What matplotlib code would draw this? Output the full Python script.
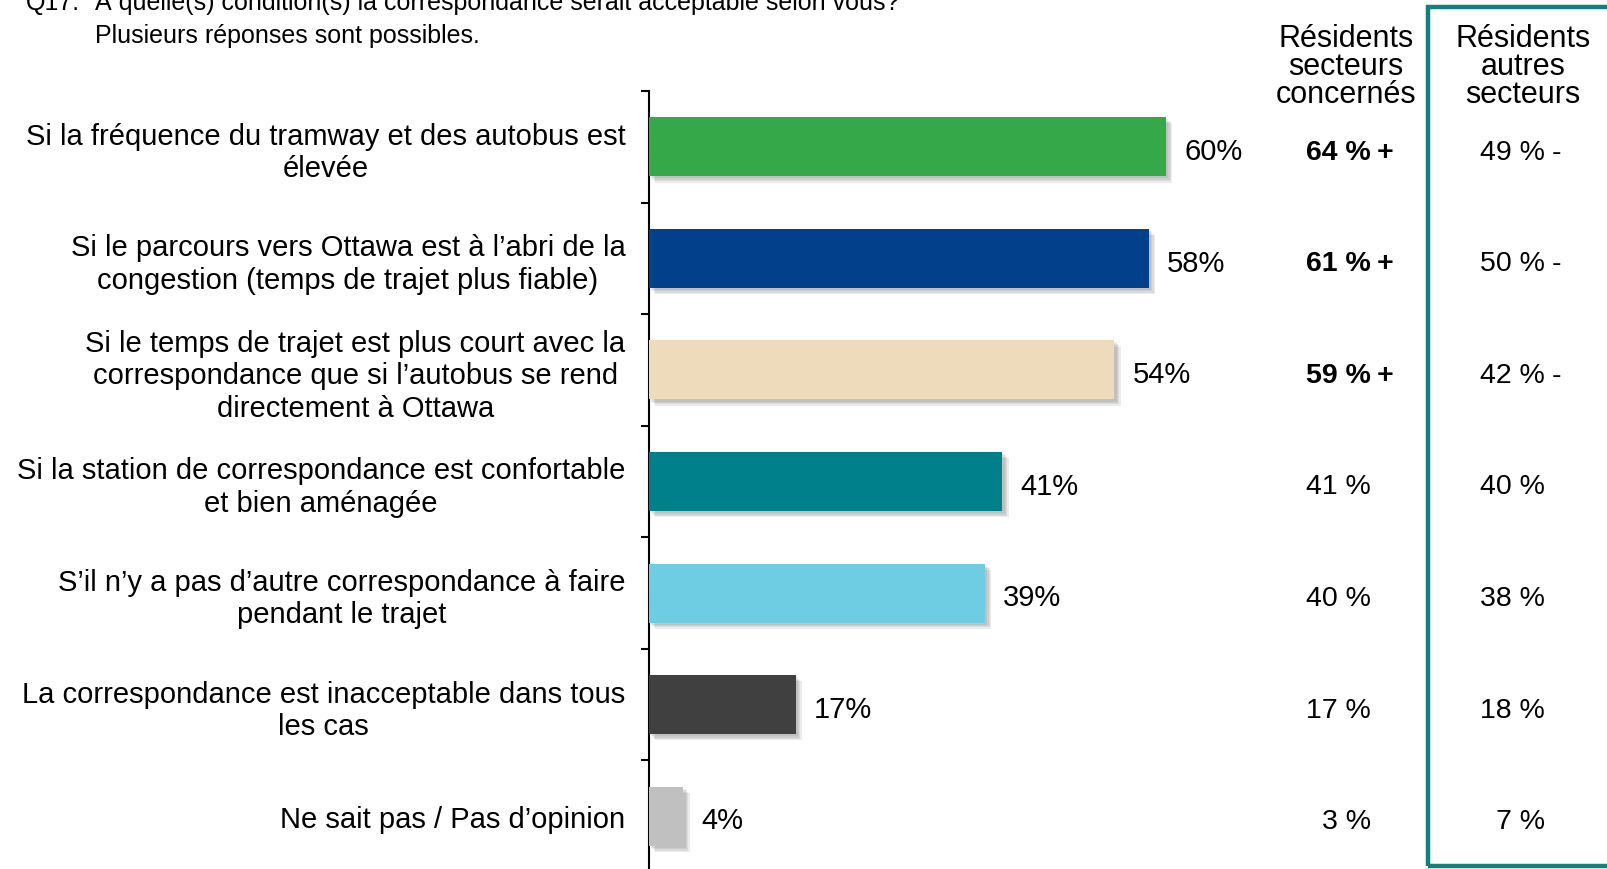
import matplotlib
matplotlib.use("Agg")
import matplotlib.pyplot as plt
import matplotlib.patheffects as pe
from matplotlib.patches import Rectangle
from matplotlib.transforms import blended_transform_factory, ScaledTranslation
import numpy as np

plt.rcParams['font.family'] = ['Liberation Sans', 'DejaVu Sans']

# data
categories = [
    "Si la fréquence du tramway et des autobus est\nélevée",
    "Si le parcours vers Ottawa est à l’abri de la\ncongestion (temps de trajet plus fiable)",
    "Si le temps de trajet est plus court avec la\ncorrespondance que si l’autobus se rend\ndirectement à Ottawa",
    "Si la station de correspondance est confortable\net bien aménagée",
    "S’il n’y a pas d’autre correspondance à faire\npendant le trajet",
    "La correspondance est inacceptable dans tous\nles cas",
    "Ne sait pas / Pas d’opinion",
]
total = [60, 58, 54, 41, 39, 17, 4]
concernes = [64, 61, 59, 41, 40, 17, 3]
concernes_sig = ["+", "+", "+", "", "", "", ""]
autres = [49, 50, 42, 40, 38, 18, 7]
autres_sig = ["-", "-", "-", "", "", "", ""]
bar_colors = ["#35A94A", "#03408C", "#EDDBBB", "#00808A", "#6FCDE3", "#404040", "#C0C0C0"]

col_headers = ["Résidents\nsecteurs\nconcernés", "Résidents\nautres\nsecteurs"]
title_num = "Q17."
title_l1 = "À quelle(s) condition(s) la correspondance serait acceptable selon vous?"
title_l2 = "Plusieurs réponses sont possibles."

W, H = 1608, 870
fig = plt.figure(figsize=(W / 100, H / 100), dpi=100)
fig.patch.set_facecolor("white")


def fx(px):
    return px / W


def fy(py):
    return 1 - py / H


# axes: left spine at x=649px, rows from y=92px down to 873px
ax = fig.add_axes([fx(649), fy(873), fx(862), (873 - 92) / H])
y = np.arange(len(categories))
bars = ax.barh(y, total, height=0.53, color=bar_colors, zorder=3)
# soft drop shadow, built from a few faint offset copies
shadow = [pe.SimplePatchShadow(offset=(o, -o), shadow_rgbFace="#707070", alpha=0.13)
          for o in (1.5, 2.5, 3.5, 4.5)]
for b in bars:
    b.set_path_effects(shadow + [pe.Normal()])

ax.set_xlim(0, 100)
ax.set_ylim(len(categories) - 0.5, -0.5)
for s in ["top", "right", "bottom"]:
    ax.spines[s].set_visible(False)
ax.spines["left"].set_linewidth(1.5)
ax.set_xticks([])
ax.set_yticks(y)
ax.set_yticklabels(categories, fontsize=21, linespacing=1.2)
for lab in ax.get_yticklabels():
    lab.set_multialignment("center")
    lab.set_transform(lab.get_transform() + ScaledTranslation(0, 3 / 100, fig.dpi_scale_trans))
ax.set_yticks(np.arange(len(categories) + 1) - 0.5, minor=True)
ax.tick_params(axis="y", which="major", length=0, pad=17)
ax.tick_params(axis="y", which="minor", length=6, width=1.5, direction="out")

for yi, v in zip(y, total):
    ax.annotate(f"{v}%", (v, yi), xytext=(13, -3), textcoords="offset points",
                va="center", ha="left", fontsize=21)

# side columns, sitting a few pixels below the bar centres
tr = blended_transform_factory(fig.transFigure, ax.transData) + \
    ScaledTranslation(0, -5 / 100, fig.dpi_scale_trans)
for yi, v, s in zip(y, concernes, concernes_sig):
    w = "bold" if s else "normal"
    fig.text(fx(1371), yi, f"{v} %", transform=tr, ha="right", va="center",
             fontsize=20.5, fontweight=w)
    if s:
        fig.text(fx(1377), yi, s, transform=tr, ha="left", va="center",
                 fontsize=20.5, fontweight="bold")
for yi, v, s in zip(y, autres, autres_sig):
    fig.text(fx(1545), yi, f"{v} %", transform=tr, ha="right", va="center", fontsize=20.5)
    if s:
        fig.text(fx(1552), yi, s, transform=tr, ha="left", va="center", fontsize=20.5)

fig.text(fx(1346), fy(67), col_headers[0], ha="center", va="center", fontsize=22,
         linespacing=0.92, multialignment="center")
fig.text(fx(1523), fy(67), col_headers[1], ha="center", va="center", fontsize=22,
         linespacing=0.92, multialignment="center")

# teal frame around the second column
fig.patches.append(Rectangle((fx(1428), fy(867)), fx(1630 - 1428), (867 - 8) / H,
                             transform=fig.transFigure, fill=False,
                             edgecolor="#11807F", linewidth=3.2, zorder=5))

# question title (cut off at the top, as in the source)
fig.text(fx(26), fy(10), title_num, ha="left", va="baseline", fontsize=18)
fig.text(fx(95), fy(10), title_l1, ha="left", va="baseline", fontsize=18)
fig.text(fx(95), fy(43), title_l2, ha="left", va="baseline", fontsize=18)

fig.savefig("out.png", dpi=100, facecolor="white")
